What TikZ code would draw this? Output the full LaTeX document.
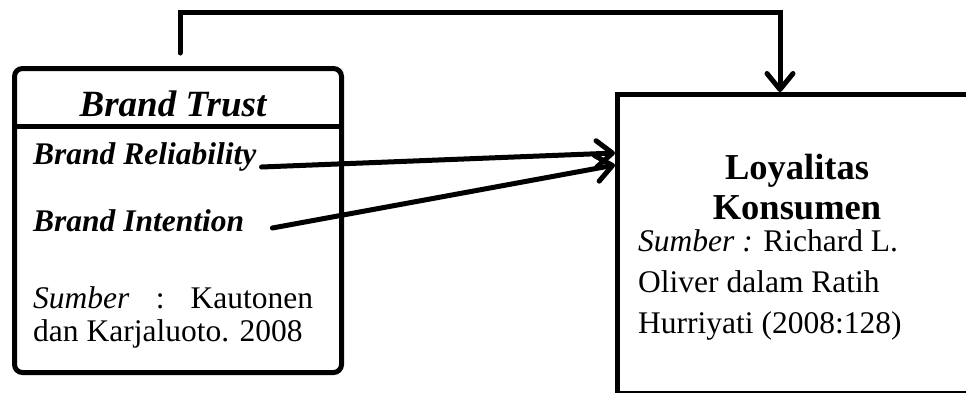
\documentclass[tikz,border=0pt]{standalone}
\usepackage{fontspec}
\setmainfont{Liberation Serif}
\usetikzlibrary{arrows.meta}
\tikzset{
  ln/.style={line width=5pt},
  arr/.style={ln, line cap=round, -{Straight Barb[length=16pt,width=26pt,round]}},
  txt/.style={inner sep=0pt, font=\fontsize{31.5}{42}\selectfont},
  bi/.style={inner sep=0pt, font=\fontsize{31.5}{42}\selectfont\bfseries\itshape},
  hd/.style={inner sep=0pt, font=\fontsize{36.5}{42}\selectfont\bfseries},
}
\begin{document}
\begin{tikzpicture}[x=1pt,y=-1pt]
\useasboundingbox (0,0) rectangle (966,392);
\clip (0,0) rectangle (966,392);
% helper levels
\coordinate (hdiv) at (0,126);
\coordinate (h1s) at (0,167);
\coordinate (h1e) at (0,153);
\coordinate (h2s) at (0,228);
\coordinate (h2e) at (0,165);
% left box
\node[ln, draw, rectangle, rounded corners=8pt, minimum width=327pt, minimum height=304pt, inner sep=0pt, anchor=north west] (lb) at (12,66) {};
\draw[ln] (lb.west |- hdiv) -- (lb.east |- hdiv);
\node[hd, anchor=base, font=\fontsize{37}{42}\selectfont\bfseries\itshape] (title) at (173,116) {Brand Trust};
\node[bi, anchor=base west] (rel) at (33,164) {Brand Reliability};
\node[bi, anchor=base west] (int) at (33,231) {Brand Intention};
\node[txt, anchor=base west, text depth=0pt] (src1) at (33,308) {\makebox[280pt][l]{\textit{Sumber}\hfill:\hfill Kautonen}};
\node[txt, anchor=base west, text height=21pt] (src2) at (33,341) {dan Karjaluoto. 2008};
% right box
\node[ln, draw, rectangle, minimum width=400pt, minimum height=298.5pt, inner sep=0pt, anchor=north west] (rb) at (615,92) {};
\node[hd, anchor=base, text depth=0pt] (loy) at (797,179) {Loyalitas};
\node[hd, anchor=base, text depth=0pt, text height=24pt] (kon) at (797,219) {Konsumen};
\node[txt, anchor=base west, text height=21pt, text depth=0pt] (s1) at (638,251) {\textit{Sumber :} Richard L.};
\node[txt, anchor=base west, text depth=0pt] (s2) at (638,292) {Oliver dalam Ratih};
\node[txt, anchor=base west] (s3) at (638,333) {Hurriyati (2008:128)};
% connectors
\coordinate (start) at (180,53);
\coordinate (c1) at (180,12);
\coordinate (c2) at (780,12);
\coordinate (r1s) at ([xshift=5pt]rel.east);
\coordinate (r2s) at ([xshift=28pt]int.east);
\draw[arr] (start) -- (c1) -- (c2) -- (c2 |- rb.north);
\draw[arr] (r1s |- h1s) -- (rb.west |- h1e);
\draw[arr] (r2s |- h2s) -- (rb.west |- h2e);
\end{tikzpicture}
\end{document}
